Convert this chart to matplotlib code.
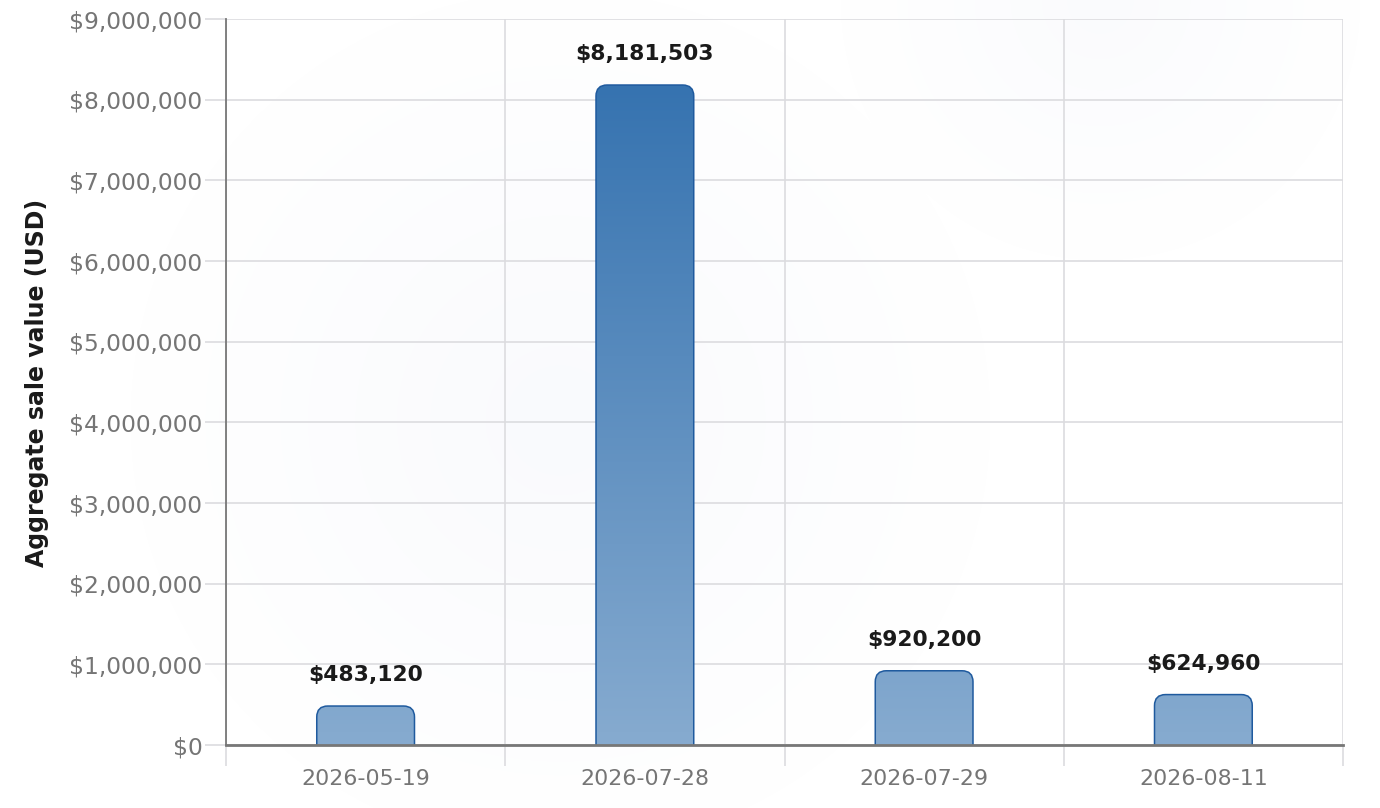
import numpy as np
import matplotlib
matplotlib.use("Agg")
import matplotlib.pyplot as plt
from matplotlib.patches import FancyBboxPatch
from matplotlib.ticker import FuncFormatter

plt.rcParams["font.family"] = ["DejaVu Sans"]

# Datos del gráfico
fechas = ["2026-05-19", "2026-07-28", "2026-07-29", "2026-08-11"]
valores = [483120, 8181503, 920200, 624960]
etiquetas = ["$483,120", "$8,181,503", "$920,200", "$624,960"]

color_gris = "#757575"
color_grid = "#dcdcdf"

fig = plt.figure(figsize=(13.8, 8.08), dpi=100)

# Fondo con degradados radiales muy suaves
fondo = fig.add_axes([0, 0, 1, 1], zorder=-10)
fondo.set_axis_off()
yy, xx = np.mgrid[0:808, 0:1380]
d1 = np.sqrt((xx - 560) ** 2 + (yy - 420) ** 2) / 430
d2 = np.sqrt((xx - 1100) ** 2 + (yy - 0) ** 2) / 260
a = 0.05 * np.clip(1 - d1, 0, 1) + 0.04 * np.clip(1 - d2, 0, 1)
img = np.ones((808, 1380, 3))
tinte = np.array([0.55, 0.62, 0.85])
img = img * (1 - a[..., None]) + tinte * a[..., None]
fondo.imshow(img, extent=[0, 1, 0, 1], aspect="auto")

ax = fig.add_axes([226 / 1380, 1 - 745 / 808, (1343 - 226) / 1380, (745 - 19) / 808])
ax.patch.set_alpha(0)

n = len(fechas)
x = np.arange(n)
ax.set_yticks(np.arange(0, 9000001, 1000000))
ax.yaxis.set_major_formatter(FuncFormatter(lambda v, p: f"${v:,.0f}"))
ax.set_xticks(x)
ax.set_xticklabels(fechas)
ax.set_xticks(np.arange(-0.5, n, 1), minor=True)

ax.grid(axis="y", color=color_grid, lw=1.2)
ax.grid(axis="x", which="minor", color=color_grid, lw=1.2)
ax.set_axisbelow(True)
ax.tick_params(axis="y", colors=color_gris, labelsize=16.8, length=15, width=1.2,
               color=color_grid, pad=2)
ax.tick_params(axis="x", which="major", length=0, colors=color_gris, labelsize=15.9, pad=17.5)
ax.tick_params(axis="x", which="minor", length=15, width=1.2, color=color_grid)
for lado in ["top", "right"]:
    ax.spines[lado].set_visible(False)
ax.spines["left"].set_color("#777777")
ax.spines["left"].set_linewidth(1.3)
ax.spines["bottom"].set_color("#777777")
ax.spines["bottom"].set_linewidth(2)
ax.spines["bottom"].set_zorder(5)

# Degradado vertical en coordenadas de datos (alfa 0.6 abajo, 1 arriba)
grad = np.linspace(0, 1, 256).reshape(-1, 1)
c_top = np.array([54, 115, 176]) / 255
alfa = 0.6 + 0.4 * grad
colores = (c_top * alfa[..., None] + (1 - alfa[..., None])).reshape(256, 1, 3)

ancho = 0.35
px_y = 9000000 / 726
px_x = 1 / 279.25
radio = 11 * px_x
for xi, v, et in zip(x, valores, etiquetas):
    caja = FancyBboxPatch((xi - ancho / 2, -20 * px_y), ancho, v + 20 * px_y,
                          boxstyle="round,pad=0,rounding_size=%f" % radio,
                          mutation_aspect=px_y / px_x,
                          facecolor="none", edgecolor="none")
    ax.add_patch(caja)
    im = ax.imshow(colores, extent=[-0.5, n - 0.5, 0, max(valores)], origin="lower",
                   aspect="auto", zorder=2)
    im.set_clip_path(caja)
    borde = FancyBboxPatch((xi - ancho / 2, -20 * px_y), ancho, v + 20 * px_y,
                           boxstyle="round,pad=0,rounding_size=%f" % radio,
                           mutation_aspect=px_y / px_x,
                           facecolor="none", edgecolor="#1f5a9e", lw=1.1, zorder=3)
    ax.add_patch(borde)
    ax.text(xi, v + 31 * px_y, et, ha="center", va="center", fontsize=15.7,
            fontweight="bold", color="#1a1a1a")

ax.set_xlim(-0.5, n - 0.5)
ax.set_ylim(0, 9000000)

fig.text(37 / 1380, 1 - 383 / 808, "Aggregate sale value (USD)", rotation=90,
         ha="center", va="center", fontsize=17, fontweight="bold", color="#1a1a1a")

fig.savefig("out.png", dpi=100)
